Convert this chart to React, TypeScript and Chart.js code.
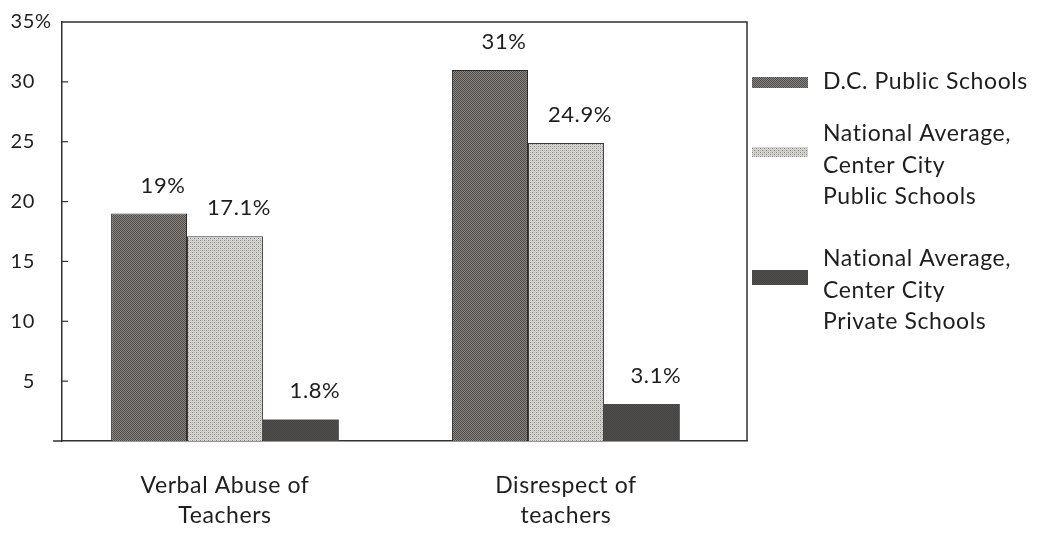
import React, { useEffect, useRef } from "react";
import { Chart, registerables } from "chart.js";

Chart.register(...registerables);

// Category labels (each drawn on two lines)
const categories: string[][] = [
  ["Verbal Abuse of", "Teachers"],
  ["Disrespect of", "teachers"],
];

// Series names as they appear in the legend, one entry per line
const seriesNames: string[][] = [
  ["D.C. Public Schools"],
  ["National Average,", "Center City", "Public Schools"],
  ["National Average,", "Center City", "Private Schools"],
];

// Percent of teachers reporting each problem
const dcPublic = [19, 31];
const nationalPublic = [17.1, 24.9];
const nationalPrivate = [1.8, 3.1];

// Value axis labels
const yTicks = [5, 10, 15, 20, 25, 30, 35];

const FONT = "Lato, 'Open Sans', sans-serif";
const INK = "#1f1d1d";

// Small pixel tile used as a halftone-like fill
function makePattern(tile: string[][]): CanvasPattern | string {
  const h = tile.length;
  const w = tile[0].length;
  const c = document.createElement("canvas");
  c.width = w;
  c.height = h;
  const ctx = c.getContext("2d");
  if (!ctx) return tile[0][0];
  for (let y = 0; y < h; y++) {
    for (let x = 0; x < w; x++) {
      ctx.fillStyle = tile[y][x];
      ctx.fillRect(x, y, 1, 1);
    }
  }
  return ctx.createPattern(c, "repeat") || tile[0][0];
}

const decorations = {
  id: "decorations",
  beforeDraw(chart: any) {
    // slightly open letter spacing for all text
    (chart.ctx as any).letterSpacing = "0.6px";
  },
  afterDraw(chart: any) {
    const { ctx, chartArea } = chart;
    const yScale = chart.scales.y;
    ctx.save();
    (ctx as any).letterSpacing = "0.6px";

    // frame: top and right edges, plus a short stub of the base line
    ctx.strokeStyle = "#333131";
    ctx.lineWidth = 1.5;
    ctx.beginPath();
    ctx.moveTo(chartArea.left, chartArea.top);
    ctx.lineTo(chartArea.right, chartArea.top);
    ctx.lineTo(chartArea.right, chartArea.bottom);
    ctx.moveTo(chartArea.left - 9, chartArea.bottom);
    ctx.lineTo(chartArea.left, chartArea.bottom);
    ctx.stroke();

    // inward tick marks and value axis labels
    ctx.fillStyle = INK;
    ctx.font = `20px ${FONT}`;
    ctx.textBaseline = "middle";
    yTicks.forEach((t) => {
      const y = yScale.getPixelForValue(t);
      if (t < 35) {
        ctx.beginPath();
        ctx.lineWidth = 1.2;
        ctx.moveTo(chartArea.left, y);
        ctx.lineTo(chartArea.left + 6, y);
        ctx.stroke();
      }
      ctx.textAlign = "right";
      ctx.fillText(String(t), chartArea.left - 27, y);
      if (t === 35) {
        ctx.textAlign = "left";
        ctx.fillText("%", chartArea.left - 27, y);
      }
    });

    // value labels above each bar
    ctx.font = `22px ${FONT}`;
    ctx.textAlign = "center";
    ctx.textBaseline = "alphabetic";
    chart.data.datasets.forEach((ds: any, di: number) => {
      const meta = chart.getDatasetMeta(di);
      meta.data.forEach((el: any, i: number) => {
        const v = ds.data[i].y;
        ctx.fillText(`${v}%`, el.x + 14, el.y - 21);
      });
    });

    // legend at the right
    const legendX = chartArea.right + 5;
    const textX = chartArea.right + 76;
    const firstBaseline = [89, 141, 266];
    const swatchTop = [77, 147, 270];
    const swatchH = [11, 10, 15];
    const lineGap = 31.5;
    ctx.font = `23px ${FONT}`;
    ctx.textAlign = "left";
    chart.data.datasets.forEach((ds: any, di: number) => {
      ctx.fillStyle = ds.backgroundColor;
      ctx.fillRect(legendX, swatchTop[di], 56, swatchH[di]);
      ctx.fillStyle = INK;
      seriesNames[di].forEach((line, li) => {
        ctx.fillText(line, textX, firstBaseline[di] + li * lineGap);
      });
    });

    ctx.restore();
  },
};

export default function App() {
  const ref = useRef<HTMLCanvasElement | null>(null);

  useEffect(() => {
    if (!ref.current) return;

    const dcFill = makePattern([
      ["#4d4a48", "#8a8784"],
      ["#8a8784", "#4d4a48"],
    ]);
    const publicFill = makePattern([
      ["#858381", "#dcdad7", "#b4b2af", "#dcdad7"],
      ["#dcdad7", "#cbc9c6", "#dcdad7", "#cbc9c6"],
      ["#b4b2af", "#dcdad7", "#858381", "#dcdad7"],
      ["#dcdad7", "#cbc9c6", "#dcdad7", "#cbc9c6"],
    ]);
    const privateFill = makePattern([
      ["#444242", "#514e4e"],
      ["#514e4e", "#444242"],
    ]);

    const toPoints = (vals: number[]) => vals.map((v, i) => ({ x: i, y: v }));

    const chart = new Chart(ref.current, {
      type: "bar",
      data: {
        datasets: [
          {
            label: seriesNames[0].join(" "),
            data: toPoints(dcPublic),
            backgroundColor: dcFill as any,
            borderColor: "#2e2c2b",
            borderWidth: 1,
          },
          {
            label: seriesNames[1].join(" "),
            data: toPoints(nationalPublic),
            backgroundColor: publicFill as any,
            borderColor: "#3a3836",
            borderWidth: 1,
          },
          {
            label: seriesNames[2].join(" "),
            data: toPoints(nationalPrivate),
            backgroundColor: privateFill as any,
            borderWidth: 0,
          },
        ],
      },
      options: {
        animation: false,
        responsive: false,
        maintainAspectRatio: false,
        layout: { padding: { top: 22, right: 294, left: 0, bottom: 0 } },
        datasets: {
          bar: { categoryPercentage: 0.668, barPercentage: 1 },
        },
        plugins: {
          legend: { display: false },
          tooltip: { enabled: false },
        },
        scales: {
          x: {
            type: "linear",
            offset: false,
            bounds: "data",
            min: -0.478,
            max: 1.531,
            grid: { display: false, drawTicks: false, offset: false },
            border: { display: true, color: "#333131", width: 1.5 },
            afterBuildTicks: (scale: any) => {
              scale.ticks = categories.map((_, i) => ({ value: i }));
            },
            afterFit: (scale: any) => {
              scale.height = 92;
            },
            ticks: {
              autoSkip: false,
              maxRotation: 0,
              padding: 30,
              color: INK,
              font: { family: FONT, size: 23, lineHeight: 1.3 },
              callback: (_v: any, i: number) => categories[i],
            },
          },
          y: {
            min: 0,
            max: 35,
            grid: { display: false, drawTicks: false },
            border: { display: true, color: "#333131", width: 1.5 },
            ticks: { display: false },
            afterFit: (scale: any) => {
              scale.width = 62;
            },
          },
        },
      },
      plugins: [decorations],
    });

    return () => chart.destroy();
  }, []);

  return (
    <div style={{ position: "fixed", left: 0, top: 0, width: 1041, height: 533, background: "#fff" }}>
      <canvas ref={ref} width={1041} height={533} />
    </div>
  );
}
